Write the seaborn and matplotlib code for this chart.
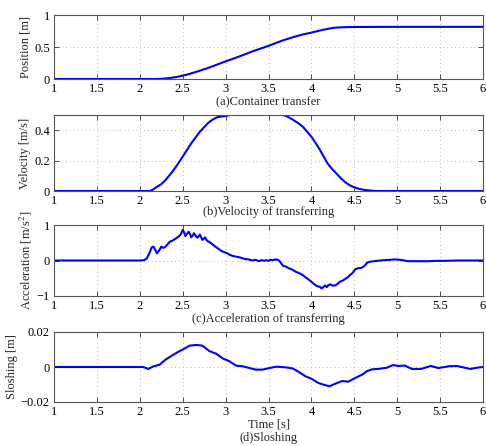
import matplotlib
matplotlib.use("Agg")
import matplotlib.pyplot as plt
import seaborn as sns
import pandas as pd

# ---------------- data ----------------
pos_t = [1.0, 2.0, 2.19, 2.25, 2.3, 2.35, 2.4, 2.45, 2.5, 2.55, 2.6, 2.65, 2.7, 2.75,
         2.81, 2.9, 3.0, 3.16, 3.31, 3.5, 3.66, 3.81, 3.9, 4.0, 4.07, 4.13, 4.2, 4.25,
         4.3, 4.37, 4.44, 4.5, 5.0, 5.5, 6.0]
pos_v = [0.0, 0.0, 0.0, 0.003, 0.008, 0.016, 0.025, 0.037, 0.052, 0.068, 0.088, 0.109,
         0.13, 0.152, 0.18, 0.225, 0.275, 0.352, 0.43, 0.518, 0.6, 0.663, 0.696, 0.725,
         0.748, 0.767, 0.786, 0.798, 0.804, 0.808, 0.811, 0.813, 0.815, 0.815, 0.815]

vel_t = [1.0, 2.0, 2.12, 2.15, 2.19, 2.25, 2.3, 2.38, 2.44, 2.5, 2.55, 2.6, 2.65, 2.7,
         2.75, 2.8, 2.85, 2.9, 2.95, 3.0, 3.05, 3.1, 3.2, 3.3, 3.4, 3.5, 3.6, 3.67, 3.72,
         3.79, 3.85, 3.9, 3.95, 4.0, 4.05, 4.1, 4.15, 4.19, 4.24, 4.29, 4.35, 4.4, 4.45,
         4.5, 4.55, 4.6, 4.65, 4.7, 4.75, 5.0, 5.5, 6.0]
vel_v = [0.0, 0.0, 0.0, 0.008, 0.024, 0.045, 0.072, 0.127, 0.175, 0.226, 0.27, 0.314,
         0.352, 0.39, 0.42, 0.45, 0.47, 0.485, 0.49, 0.493, 0.5, 0.505, 0.515, 0.52, 0.52,
         0.515, 0.505, 0.5, 0.49, 0.467, 0.445, 0.423, 0.39, 0.357, 0.315, 0.27, 0.22,
         0.18, 0.145, 0.116, 0.08, 0.055, 0.037, 0.024, 0.015, 0.009, 0.005, 0.002, 0.0,
         0.0, 0.0, 0.0]

acc_t = [1.0, 2.0, 2.05, 2.08, 2.11, 2.14, 2.16, 2.18, 2.2, 2.23, 2.25, 2.27, 2.29, 2.31,
         2.33, 2.35, 2.38, 2.42, 2.46, 2.48, 2.5, 2.52, 2.53, 2.55, 2.57, 2.59, 2.6, 2.62,
         2.63, 2.65, 2.67, 2.69, 2.7, 2.72, 2.73, 2.75, 2.76, 2.78, 2.8, 2.83, 2.85, 2.88,
         2.91, 2.95, 2.98, 3.02, 3.05, 3.08, 3.12, 3.16, 3.2, 3.23, 3.27, 3.31, 3.35, 3.39,
         3.42, 3.45, 3.47, 3.5, 3.52, 3.55, 3.58, 3.61, 3.63, 3.65, 3.67, 3.7, 3.74, 3.78,
         3.82, 3.86, 3.9, 3.93, 3.97, 4.0, 4.04, 4.07, 4.1, 4.12, 4.14, 4.16, 4.18, 4.2,
         4.22, 4.25, 4.28, 4.31, 4.33, 4.37, 4.4, 4.43, 4.45, 4.48, 4.51, 4.54, 4.58, 4.62,
         4.65, 4.69, 4.73, 4.8, 4.85, 4.92, 4.97, 5.03, 5.13, 5.25, 5.36, 5.45, 5.55, 5.7,
         5.85, 6.0]
acc_v = [0.0, 0.0, 0.01, 0.05, 0.2, 0.37, 0.39, 0.3, 0.2, 0.3, 0.39, 0.36, 0.37, 0.42,
         0.47, 0.53, 0.56, 0.62, 0.69, 0.75, 0.86, 0.78, 0.69, 0.75, 0.81, 0.72, 0.65, 0.72,
         0.77, 0.7, 0.64, 0.7, 0.73, 0.63, 0.58, 0.62, 0.65, 0.57, 0.53, 0.49, 0.45, 0.39,
         0.34, 0.27, 0.24, 0.2, 0.16, 0.13, 0.11, 0.09, 0.06, 0.04, 0.03, 0.0, 0.02, -0.02,
         0.01, -0.01, 0.01, -0.01, 0.02, 0.01, 0.03, 0.02, -0.02, -0.09, -0.15, -0.17, -0.22,
         -0.26, -0.32, -0.36, -0.41, -0.47, -0.54, -0.6, -0.68, -0.73, -0.74, -0.79, -0.75,
         -0.7, -0.75, -0.69, -0.67, -0.71, -0.7, -0.65, -0.6, -0.56, -0.51, -0.46, -0.41,
         -0.35, -0.25, -0.22, -0.21, -0.15, -0.06, -0.03, -0.02, 0.0, 0.01, 0.02, 0.03, 0.02,
         -0.02, -0.02, -0.02, -0.01, -0.01, 0.0, 0.0, 0.0]

slosh_t = [1.0, 2.0, 2.04, 2.1, 2.16, 2.23, 2.3, 2.38, 2.46, 2.52, 2.58, 2.66, 2.73, 2.81,
           2.89, 2.97, 3.04, 3.12, 3.2, 3.28, 3.35, 3.43, 3.51, 3.59, 3.7, 3.78, 3.86, 3.93,
           4.0, 4.08, 4.14, 4.21, 4.28, 4.36, 4.43, 4.51, 4.59, 4.65, 4.71, 4.78, 4.88, 4.95,
           5.01, 5.09, 5.17, 5.28, 5.39, 5.48, 5.6, 5.69, 5.75, 5.85, 5.93, 6.0]
slosh_v = [0.0, 0.0, 0.0, -0.0011, 0.0004, 0.0013, 0.0042, 0.0067, 0.009, 0.0105, 0.0122,
           0.0126, 0.0122, 0.0091, 0.0076, 0.0048, 0.0034, 0.0008, 0.0004, -0.0006, -0.0015,
           -0.0015, -0.0006, 0.0002, -0.0002, -0.0008, -0.003, -0.0053, -0.0067, -0.0091,
           -0.0101, -0.011, -0.0095, -0.008, -0.0084, -0.0063, -0.0044, -0.0023, -0.0013,
           -0.0011, -0.0004, 0.0011, 0.0006, 0.0008, -0.0011, -0.0011, 0.0006, -0.0006,
           0.0004, 0.0006, 0.0, -0.0011, -0.0004, 0.0]

x_ticks = [1, 1.5, 2, 2.5, 3, 3.5, 4, 4.5, 5, 5.5, 6]
x_tick_labels = ["1", "1.5", "2", "2.5", "3", "3.5", "4", "4.5", "5", "5.5", "6"]

panels = [
    dict(t=pos_t, v=pos_v, ylabel="Position [m]", ylim=(0, 1),
         yticks=[0, 0.5, 1], yticklabels=["0", "0.5", "1"],
         caption="(a)Container transfer"),
    dict(t=vel_t, v=vel_v, ylabel="Velocity [m/s]", ylim=(0, 0.5),
         yticks=[0, 0.2, 0.4], yticklabels=["0", "0.2", "0.4"],
         caption="(b)Velocity of transferring"),
    dict(t=acc_t, v=acc_v, ylabel="Acceleration [m/s$^2$]", ylim=(-1, 1),
         yticks=[-1, 0, 1], yticklabels=["\u22121", "0", "1"],
         caption="(c)Acceleration of transferring"),
    dict(t=slosh_t, v=slosh_v, ylabel="Sloshing [m]", ylim=(-0.02, 0.02),
         yticks=[-0.02, 0, 0.02], yticklabels=["\u22120.02", "0", "0.02"],
         caption="(d)Sloshing"),
]

# ---------------- layout ----------------
W, H = 486, 446
left, right = 54 / W, 483 / W
boxes = [(15, 79), (115, 191), (225, 296), (332, 402)]   # top, bottom pixel rows
caption_y = [102, 212, 319, 438]

sns.set_theme(style="ticks")
plt.rcParams["font.family"] = ["Liberation Serif", "DejaVu Serif"]
plt.rcParams["mathtext.fontset"] = "stix"
plt.rcParams["font.size"] = 9

fig = plt.figure(figsize=(W / 100, H / 100), dpi=100)
fig.patch.set_facecolor("white")

for i, p in enumerate(panels):
    top, bot = boxes[i]
    ax = fig.add_axes([left, 1 - bot / H, right - left, (bot - top) / H])
    df = pd.DataFrame({"t": p["t"], "v": p["v"]})
    sns.lineplot(data=df, x="t", y="v", ax=ax, color="#0000ff", linewidth=1.5,
                 estimator=None, sort=True)
    ax.set_xlim(1, 6)
    ax.set_ylim(*p["ylim"])
    ax.set_xticks(x_ticks)
    ax.set_xticklabels(x_tick_labels)
    ax.set_yticks(p["yticks"])
    ax.set_yticklabels(p["yticklabels"])
    ax.set_ylabel(p["ylabel"], fontsize=9, labelpad=2)
    ax.set_xlabel("Time [s]" if i == 3 else "", fontsize=9, labelpad=0)
    ax.grid(True, linestyle=(0, (1, 3)), color="#bbbbbb", linewidth=0.7)
    ax.tick_params(direction="in", top=True, right=True, length=3.5, width=0.6,
                   colors="#333333", labelcolor="black", labelsize=9, pad=3)
    for s in ax.spines.values():
        s.set_color("#555555")
        s.set_linewidth(0.8)
    ax.set_facecolor("white")
    fig.text((left + right) / 2, 1 - caption_y[i] / H, p["caption"],
             ha="center", va="center", fontsize=9)

fig.savefig("out.png", dpi=100, facecolor="white")
